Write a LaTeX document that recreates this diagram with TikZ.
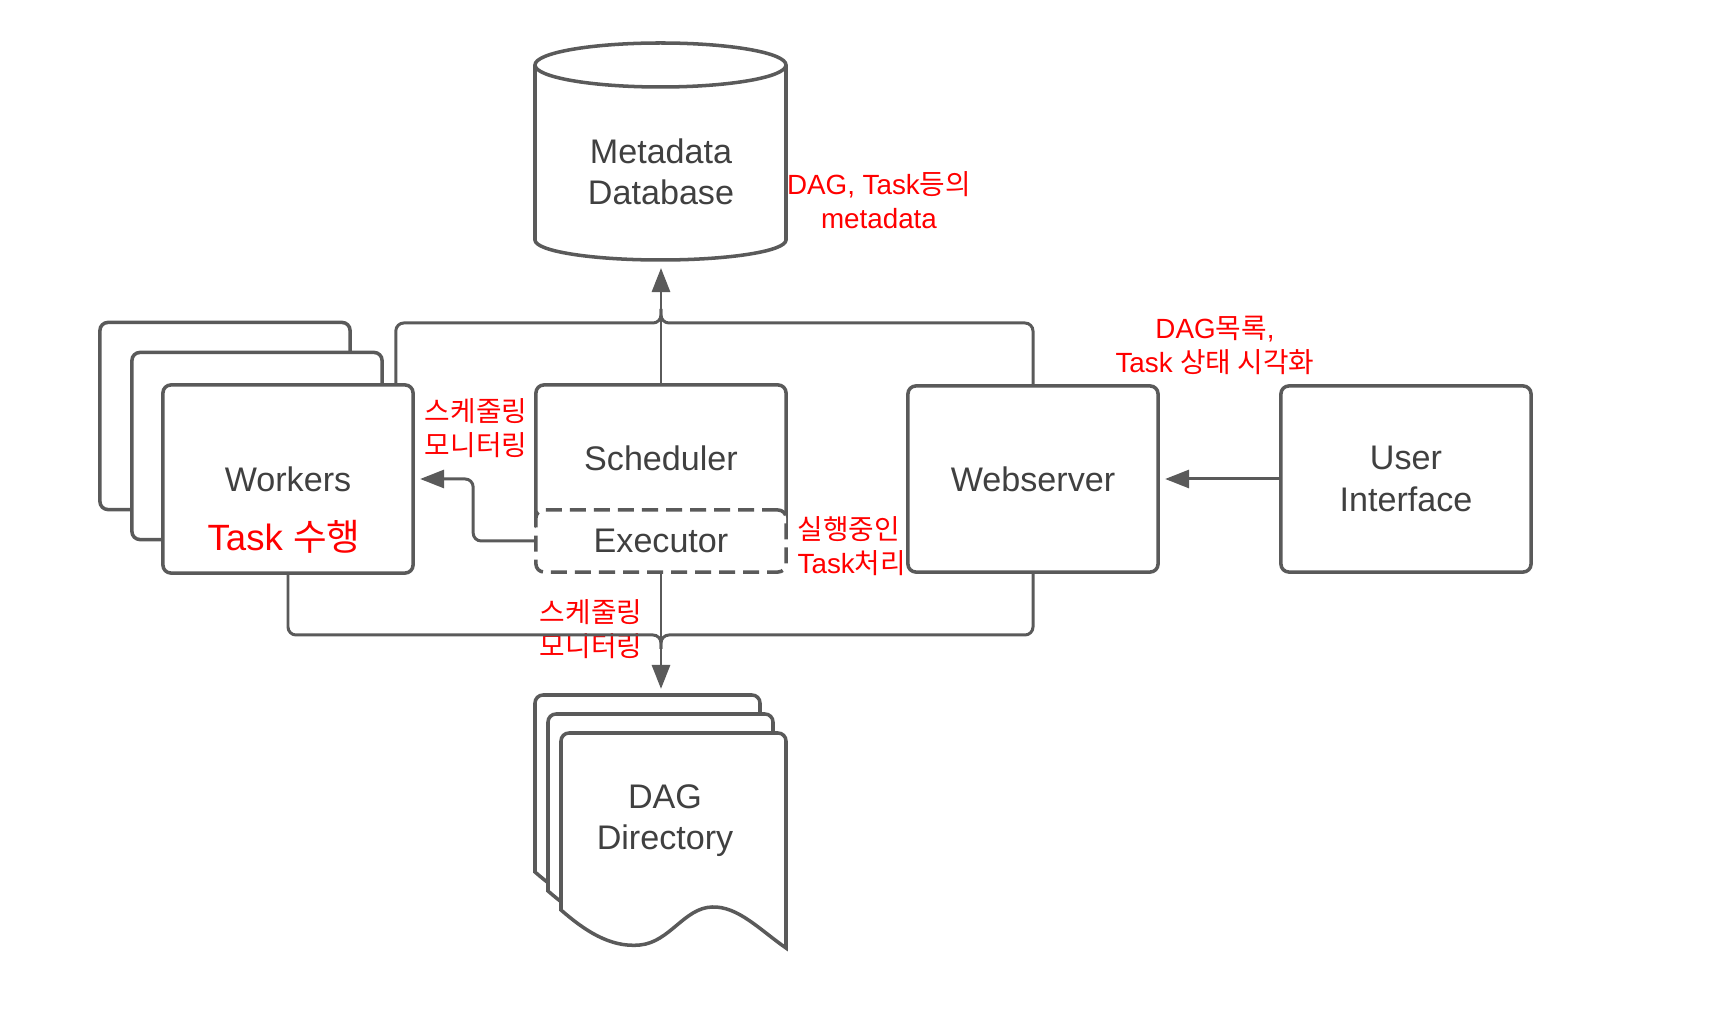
\documentclass[tikz,border=0pt]{standalone}
\usepackage{fontspec}
\setmainfont{Liberation Sans}
\newfontfamily\krfont{Noto Sans CJK KR}
\usepackage{tikz}
\usetikzlibrary{arrows.meta,positioning}
\definecolor{linegray}{RGB}{90,90,90}
\definecolor{textgray}{RGB}{64,64,64}
\newcommand\boxfont{\fontsize{9.7}{11.7}\selectfont}
\newcommand\notefont{\fontsize{7.9}{9.7}\selectfont}
\newcommand\tasksize{\fontsize{10.4}{12}\selectfont}

\begin{document}
\begin{tikzpicture}[x=0.01cm,y=-0.01cm,>={Triangle[length=2.4mm,width=1.8mm]},
  txt/.style={text=textgray,font=\boxfont,align=center},
  box/.style={txt,draw=linegray,line width=1pt,rounded corners=0.8mm,fill=white,minimum width=2.5cm},
  page/.style={draw=linegray,line width=1pt,fill=white},
  note/.style={text=red,font=\notefont,align=center,inner sep=0pt},
  wire/.style={draw=linegray,line width=0.85pt,rounded corners=0.8mm},
  arr/.style={wire,->,shorten >=1.5pt}]
\useasboundingbox (0,0) rectangle (1714,1016);

% metadata database
\draw[page] (535,65) -- (535,240) arc[start angle=180,end angle=0,x radius=125.5,y radius=20] -- (786,65);
\draw[page] (660.5,65) ellipse[x radius=125.5,y radius=22];
\node (db) at (661,172) [txt,minimum height=1.8cm] {Metadata\\Database};
\node (dbnote) at (879,200) [note] {DAG, Task{\krfont 등의}\\metadata};

% workers
\node (worker3) at (225,416) [box,minimum height=1.87cm] {};
\node (worker2) at (257,446) [box,minimum height=1.87cm] {};
\node (workers) at (288,479) [box,minimum height=1.88cm] {Workers};
\node (wtask) at (284,537) [note,font=\tasksize] {Task {\krfont 수행}};

% scheduler + executor
\node (sched) at (661,458) [box,minimum height=1.46cm] {Scheduler};
\node (exec) at (661,541) [box,dashed,dash pattern=on 1.6mm off 0.8mm,minimum height=0.62cm] {Executor};

% webserver, ui
\node (web) at (1033,479) [box,minimum height=1.86cm] {Webserver};
\node (ui) at (1406,479) [box,minimum height=1.86cm] {User\\Interface};

% dag directory (3 pages)
\draw[page,shift={(-26,-38)}] (561,910) [rounded corners=0.8mm] -- (561,733) -- (786,733) -- (786,800) [sharp corners] -- (786,948) .. controls (760,930) and (738,906) .. (712,907) .. controls (684,908) and (670,942) .. (640,945) .. controls (610,948) and (584,930) .. (561,910) -- cycle;
\draw[page,shift={(-13,-19)}] (561,910) [rounded corners=0.8mm] -- (561,733) -- (786,733) -- (786,800) [sharp corners] -- (786,948) .. controls (760,930) and (738,906) .. (712,907) .. controls (684,908) and (670,942) .. (640,945) .. controls (610,948) and (584,930) .. (561,910) -- cycle;
\draw[page] (561,910) [rounded corners=0.8mm] -- (561,733) -- (786,733) -- (786,800) [sharp corners] -- (786,948) .. controls (760,930) and (738,906) .. (712,907) .. controls (684,908) and (670,942) .. (640,945) .. controls (610,948) and (584,930) .. (561,910) -- cycle;
\node (dag) at (665,821) [txt,minimum height=2.52cm] {DAG\\Directory};

% red notes
\node (wnote) at (476,428) [note] {{\krfont 스케줄링}\\{\krfont 모니터링}};
\node (exnote) at (797,546) [note,anchor=west,align=left] {{\krfont 실행중인}\\Task{\krfont 처리}};
\node (dagnote) at (591,629) [note] {{\krfont 스케줄링}\\{\krfont 모니터링}};
\node (uinote) at (1215,345) [note] {DAG{\krfont 목록},\\Task {\krfont 상태 시각화}};

% connectors
\draw[wire] ([xshift=-0.19cm]workers.north east) |- (sched.north |- 0,323) -- ++(0,-14);
\draw[wire] (web.north) |- (sched.north |- 0,323) -- ++(0,-14);
\draw[wire] (workers.south) |- (sched.south |- 0,635) -- ++(0,14);
\draw[wire] (web.south) |- (sched.south |- 0,635) -- ++(0,14);
\draw[arr] (sched.north) -- (db.south);
\draw[arr] (exec.south) -- (exec.south |- dag.north);
\draw[arr] (exec.west) -- ++(-61,0) |- (workers.east);
\draw[arr] (ui.west) -- (web.east);
\end{tikzpicture}
\end{document}
